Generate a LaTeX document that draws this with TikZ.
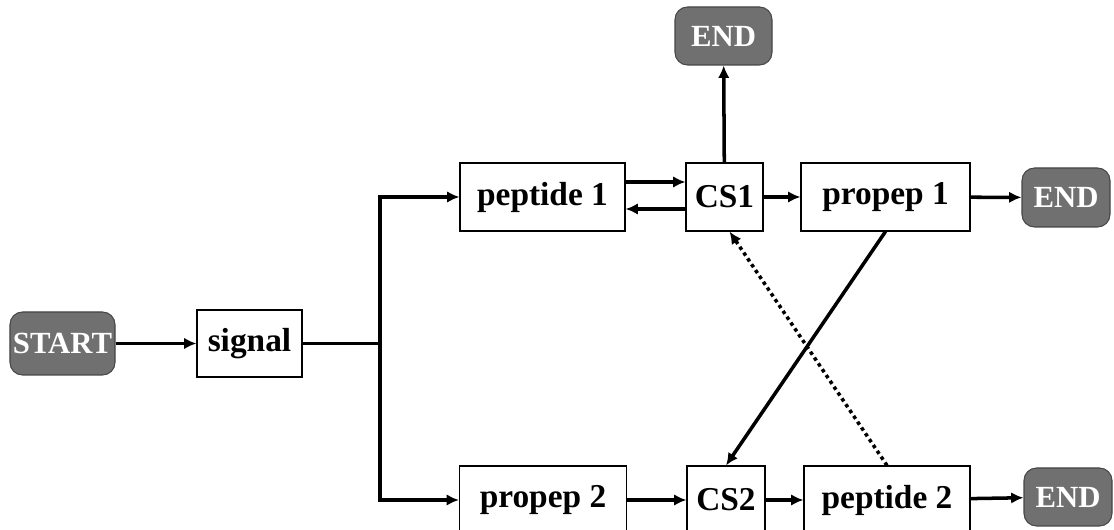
\documentclass[tikz,border=0pt]{standalone}
\usepackage{fontspec}
\setmainfont{Liberation Serif}
\usetikzlibrary{arrows.meta}
\definecolor{term_gray}{RGB}{112, 112, 112}
\definecolor{term_edge}{RGB}{70, 70, 70}
\tikzstyle{tn}=[rectangle,rounded corners=0.25cm,fill=term_gray,draw=term_edge,
  line width=0.6pt,text=white,font=\fontsize{17.5}{20}\selectfont\bfseries,
  inner sep=0pt]
\tikzstyle{bn}=[rectangle,fill=white,draw=black,line width=0.6pt,
  font=\fontsize{19}{22}\selectfont\bfseries,inner sep=0pt,minimum height=1.36cm]
\tikzstyle{ar}=[line width=2pt,-{Latex[length=7pt,width=6.5pt]}]

\begin{document}
\begin{tikzpicture}
    \useasboundingbox (0,0) rectangle (22.28,10.6);
    \node [style=tn,minimum width=2.1cm,minimum height=1.26cm] (start) at (1.25,3.73) {START};
    \node [style=bn,minimum width=2.1cm,minimum height=1.34cm] (signal) at (4.99,3.73) {signal};
    \coordinate (fork) at (7.6,3.73);
    \coordinate (forkup) at (7.6,6.66);
    \coordinate (forkdown) at (7.6,0.6);
    \node [style=bn,minimum width=3.3cm] (pep1) at (10.85,6.66) {peptide 1};
    \node [style=bn,minimum width=1.54cm] (cs1) at (14.49,6.66) {CS1};
    \node [style=bn,minimum width=3.38cm] (prop1) at (17.71,6.66) {propep 1};
    \node [style=tn,minimum width=1.94cm,minimum height=1.16cm] (end1) at (14.47,9.88) {END};
    \node [style=tn,minimum width=1.76cm,minimum height=1.18cm] (end2) at (21.32,6.65) {END};
    \node [style=bn,minimum width=3.34cm] (prop2) at (10.86,0.6) {propep 2};
    \node [style=bn,minimum width=1.56cm] (cs2) at (14.52,0.6) {CS2};
    \node [style=bn,minimum width=3.32cm] (pep2) at (17.74,0.6) {peptide 2};
    \node [style=tn,minimum width=1.76cm,minimum height=1.16cm] (end3) at (21.36,0.66) {END};
    \draw [style=ar] (start) to (signal);
    \draw [line width=2pt] (signal) to (fork);
    \draw [style=ar] (forkdown) |- (forkup) to (pep1);
    \draw [style=ar] (forkup) |- (forkdown) to (prop2);
    \draw [style=ar] ([yshift=0.3cm]pep1.east) to ([yshift=0.3cm]cs1.west);
    \draw [style=ar] ([yshift=-0.24cm]cs1.west) to ([yshift=-0.24cm]pep1.east);
    \draw [style=ar] (cs1) to (end1);
    \draw [style=ar] (cs1) to (prop1);
    \draw [style=ar] (prop1) to (end2);
    \draw [style=ar] (prop2) to (cs2);
    \draw [style=ar] (cs2) to (pep2);
    \draw [style=ar] (pep2) to (end3);
    \draw [style=ar] (prop1.south) to (cs2.north);
    \draw [style=ar,dash pattern=on 2pt off 2pt] (pep2.north) to ([xshift=0.1cm]cs1.south);
  \end{tikzpicture}
\end{document}
